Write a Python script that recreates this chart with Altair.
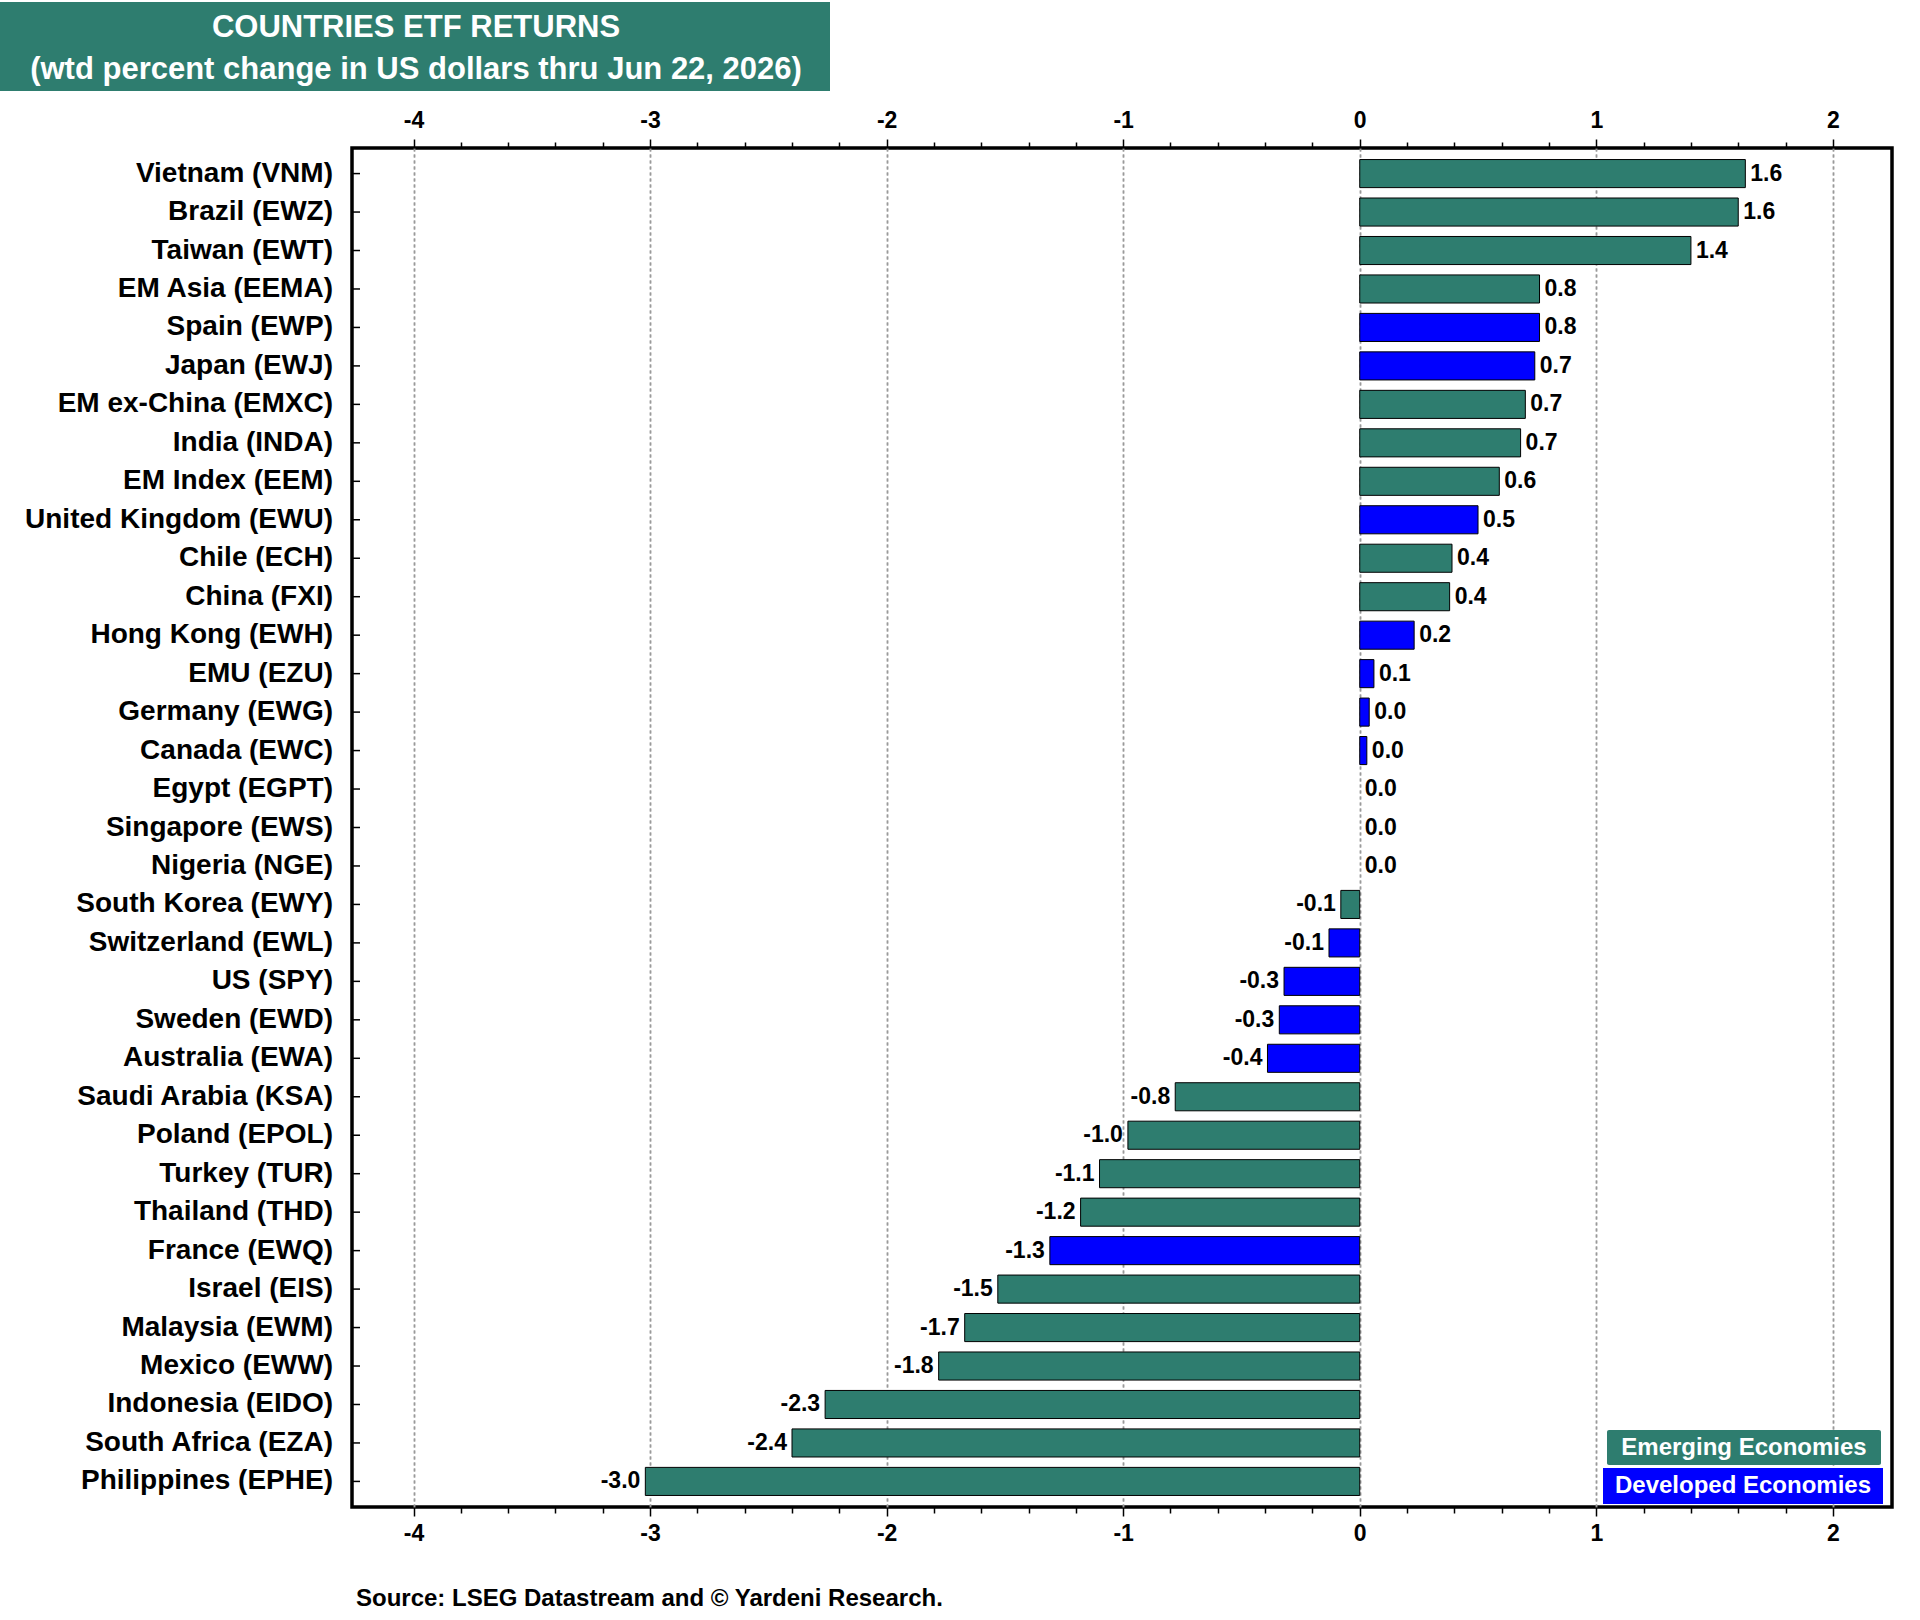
import altair as alt
import pandas as pd

# Weekly returns of country ETFs, top to bottom
names = [
    "Vietnam (VNM)", "Brazil (EWZ)", "Taiwan (EWT)", "EM Asia (EEMA)", "Spain (EWP)",
    "Japan (EWJ)", "EM ex-China (EMXC)", "India (INDA)", "EM Index (EEM)",
    "United Kingdom (EWU)", "Chile (ECH)", "China (FXI)", "Hong Kong (EWH)", "EMU (EZU)",
    "Germany (EWG)", "Canada (EWC)", "Egypt (EGPT)", "Singapore (EWS)", "Nigeria (NGE)",
    "South Korea (EWY)", "Switzerland (EWL)", "US (SPY)", "Sweden (EWD)", "Australia (EWA)",
    "Saudi Arabia (KSA)", "Poland (EPOL)", "Turkey (TUR)", "Thailand (THD)", "France (EWQ)",
    "Israel (EIS)", "Malaysia (EWM)", "Mexico (EWW)", "Indonesia (EIDO)",
    "South Africa (EZA)", "Philippines (EPHE)",
]
values = [
    1.63, 1.60, 1.40, 0.76, 0.76,
    0.74, 0.70, 0.68, 0.59,
    0.50, 0.39, 0.38, 0.23, 0.06,
    0.04, 0.03, 0.0, 0.0, 0.0,
    -0.08, -0.13, -0.32, -0.34, -0.39,
    -0.78, -0.98, -1.10, -1.18, -1.31,
    -1.53, -1.67, -1.78, -2.26,
    -2.40, -3.02,
]
groups = [
    "E", "E", "E", "E", "D",
    "D", "E", "E", "E",
    "D", "E", "E", "D", "D",
    "D", "D", "E", "D", "E",
    "E", "D", "D", "D", "D",
    "E", "E", "E", "E", "D",
    "E", "E", "E", "E",
    "E", "E",
]
group_names = {"E": "Emerging Economies", "D": "Developed Economies"}
x_ticks = [round(-4 + 0.2 * i, 1) for i in range(31)]

title_lines = ["COUNTRIES ETF RETURNS", "(wtd percent change in US dollars thru Jun 22, 2026)"]
source_text = "Source: LSEG Datastream and \u00a9 Yardeni Research."

GREEN = "#2E7D6F"
BLUE = "#0000FF"
SANS = "Liberation Sans, Arial, sans-serif"
W, H = 1540, 1359

df = pd.DataFrame({
    "name": names,
    "value": values,
    "group": [group_names[g] for g in groups],
})
df["label"] = [f"{v:.1f}" for v in df["value"]]

x_scale = alt.Scale(domain=[-4.26, 2.25], nice=False, zero=False)
y_scale = alt.Scale(paddingInner=0.27, paddingOuter=0.3)
color_scale = alt.Scale(domain=list(group_names.values()), range=[GREEN, BLUE])

minor = "abs(datum.value - round(datum.value)) > 0.001"


def x_axis(orient, pad):
    return alt.Axis(
        orient=orient, values=x_ticks, title=None, domain=False,
        labelExpr="abs(datum.value - round(datum.value)) < 0.001 ? '' + round(datum.value) : ''",
        labelFont=SANS, labelFontSize=23, labelFontWeight="bold", labelColor="black",
        labelPadding=pad, labelFlush=False, labelOverlap=False,
        tickColor="black", tickWidth=1.5,
        tickSize={"condition": {"test": minor, "value": 6}, "value": 9},
        grid=True, gridColor="#9a9a9a", gridDash=[3, 3], gridWidth=1.5,
        gridOpacity={"condition": {"test": minor, "value": 0}, "value": 1},
    )


y_enc = alt.Y("name:N", sort=names, scale=y_scale, axis=None)

bars = alt.Chart(df).transform_filter("datum.value != 0").mark_bar(
    stroke="black", strokeWidth=1
).encode(
    x=alt.X("value:Q", scale=x_scale, axis=x_axis("top", 7)),
    x2=alt.datum(0),
    y=y_enc,
    color=alt.Color("group:N", scale=color_scale, legend=None),
)

# category names to the left of the frame
cat_labels = alt.Chart(df).mark_text(
    align="right", baseline="middle", font=SANS, fontSize=28, fontWeight="bold", color="black"
).encode(x=alt.value(-19), y=y_enc, text="name:N")

# short inward ticks on the category axis
y_ticks = alt.Chart(df).mark_rule(color="black", strokeWidth=1.5).encode(
    x=alt.value(0), x2=alt.value(8), y=y_enc,
)

label_style = dict(baseline="middle", font=SANS, fontSize=23, fontWeight="bold", color="black")

pos_labels = alt.Chart(df).transform_filter("datum.value >= 0").mark_text(
    align="left", dx=5, **label_style
).encode(
    x=alt.X("value:Q", scale=x_scale, axis=x_axis("bottom", 6)),
    y=y_enc,
    text="label:N",
)

neg_labels = alt.Chart(df).transform_filter("datum.value < 0").mark_text(
    align="right", dx=-5, **label_style
).encode(
    x=alt.X("value:Q", scale=x_scale, axis=None),
    y=y_enc,
    text="label:N",
)

one = pd.DataFrame({"k": [0]})

title_box = alt.Chart(one).mark_rect(color=GREEN).encode(
    x=alt.value(-352), x2=alt.value(478), y=alt.value(-146), y2=alt.value(-57)
)
title_style = dict(align="center", baseline="middle", font=SANS, fontSize=31,
                   fontWeight="bold", color="white")
title1 = alt.Chart(one).mark_text(text=title_lines[0], **title_style).encode(
    x=alt.value(64), y=alt.value(-120)
)
title2 = alt.Chart(one).mark_text(text=title_lines[1], **title_style).encode(
    x=alt.value(64), y=alt.value(-78)
)

legend_style = dict(align="center", baseline="middle", font=SANS, fontSize=24,
                    fontWeight="bold", color="white")
leg_em_box = alt.Chart(one).mark_rect(color=GREEN, cornerRadius=2).encode(
    x=alt.value(1255), x2=alt.value(1529), y=alt.value(1282), y2=alt.value(1317)
)
leg_dm_box = alt.Chart(one).mark_rect(color=BLUE).encode(
    x=alt.value(1251), x2=alt.value(1531), y=alt.value(1320), y2=alt.value(1356)
)
leg_em_text = alt.Chart(one).mark_text(text=group_names["E"], **legend_style).encode(
    x=alt.value(1392), y=alt.value(1300)
)
leg_dm_text = alt.Chart(one).mark_text(text=group_names["D"], **legend_style).encode(
    x=alt.value(1391), y=alt.value(1338)
)

source = alt.Chart(one).mark_text(
    text=source_text, align="left", baseline="middle", font=SANS, fontSize=24,
    fontWeight="bold", color="black"
).encode(x=alt.value(4), y=alt.value(1451))

chart = alt.layer(
    bars, cat_labels, y_ticks, pos_labels, neg_labels,
    title_box, title1, title2,
    leg_em_box, leg_dm_box, leg_em_text, leg_dm_text,
    source,
).properties(
    width=W, height=H,
    padding={"left": 0, "top": 2, "right": 10, "bottom": 5},
    background="white",
).configure_view(stroke="black", strokeWidth=3.5)

chart.save("out.html", embed_options={"renderer": "svg", "actions": False})
